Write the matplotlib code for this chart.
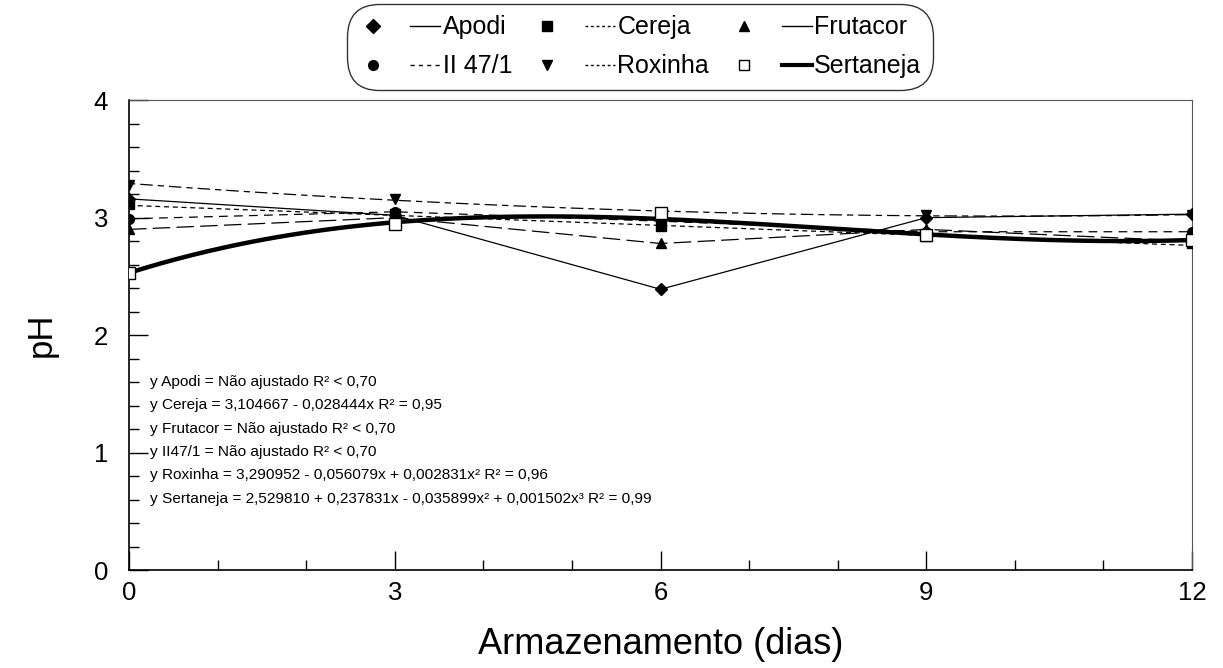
import numpy as np
import matplotlib.pyplot as plt
from matplotlib.lines import Line2D
from matplotlib.legend_handler import HandlerTuple
from matplotlib.ticker import MultipleLocator

plt.rcParams['font.family'] = ['Liberation Sans', 'DejaVu Sans']

# pH medido em cada dia de armazenamento
dias = [0, 3, 6, 9, 12]
apodi = [3.16, 3.02, 2.39, 3.00, 3.03]
cereja = [3.12, 3.03, 2.93, 2.84, 2.78]
frutacor = [2.90, 3.00, 2.78, 2.90, 2.80]
ii47 = [2.99, 3.05, 2.97, 2.88, 2.88]
roxinha = [3.28, 3.16, 3.02, 3.02, 3.02]
sertaneja = [2.53, 2.95, 3.04, 2.85, 2.81]

# coeficientes das regressoes (termo constante primeiro)
coef_cereja = [3.104667, -0.028444]
coef_roxinha = [3.290952, -0.056079, 0.002831]
coef_sertaneja = [2.529810, 0.237831, -0.035899, 0.001502]

equacoes = [
    "y Apodi = Não ajustado R² < 0,70",
    "y Cereja = 3,104667 - 0,028444x R² = 0,95",
    "y Frutacor = Não ajustado R² < 0,70",
    "y II47/1 = Não ajustado R² < 0,70",
    "y Roxinha = 3,290952 - 0,056079x + 0,002831x² R² = 0,96",
    "y Sertaneja = 2,529810 + 0,237831x - 0,035899x² + 0,001502x³ R² = 0,99",
]

fig = plt.figure(figsize=(12.23, 6.68), dpi=100)
ax = fig.add_axes([0.1055, 0.1467, 0.8692, 0.7033])

xs = np.linspace(0, 12, 200)
pv = np.polynomial.polynomial.polyval

# linhas: ligando pontos (nao ajustados) ou curva ajustada
ax.plot(dias, apodi, color='black', lw=0.9, ls='-')
ax.plot(dias, frutacor, color='black', lw=0.9, dashes=(14, 5))
ax.plot(dias, ii47, color='black', lw=0.9, dashes=(7, 5))
ax.plot(xs, pv(xs, coef_cereja), color='black', lw=0.9, dashes=(4, 3))
ax.plot(xs, pv(xs, coef_roxinha), color='black', lw=0.9, dashes=(5, 4, 10, 4))
ax.plot(xs, pv(xs, coef_sertaneja), color='black', lw=3.2, ls='-')

# pontos observados
ms = 7
ax.plot(dias, roxinha, 'v', color='black', ms=ms, zorder=5)
ax.plot(dias, apodi, 'D', color='black', ms=6, zorder=5)
ax.plot(dias, cereja, 's', color='black', ms=ms, zorder=5)
ax.plot(dias, ii47, 'o', color='black', ms=ms, zorder=5)
ax.plot(dias, frutacor, '^', color='black', ms=ms, zorder=5)
ax.plot(dias, sertaneja, 's', mfc='white', mec='black', mew=1, ms=9, zorder=6)

for i, txt in enumerate(equacoes):
    ax.text(0.02, 0.40 - i * 0.0496, txt, transform=ax.transAxes,
            fontsize=11.1, va='center', ha='left')

ax.set_xlim(0, 12)
ax.set_ylim(0, 4)
ax.xaxis.set_major_locator(MultipleLocator(3))
ax.xaxis.set_minor_locator(MultipleLocator(1))
ax.yaxis.set_major_locator(MultipleLocator(1))
ax.yaxis.set_minor_locator(MultipleLocator(0.2))
ax.tick_params(which='both', direction='in', top=False, right=False,
               labelsize=18.5, width=1)
ax.tick_params(which='major', length=14)
ax.tick_params(which='minor', length=7)
ax.tick_params(axis='y', pad=15)
ax.tick_params(axis='x', pad=8)

for s in ['left', 'bottom']:
    ax.spines[s].set_linewidth(1.2)
for s in ['top', 'right']:
    ax.spines[s].set_linewidth(0.8)
    ax.spines[s].set_color('#555555')

ax.set_xlabel('Armazenamento (dias)', fontsize=26, labelpad=16)
ax.set_ylabel('pH', fontsize=25, labelpad=26)

# legenda: marcador + estilo de linha de cada cultivar
def item(marker, mfc='black', **line_kw):
    mk = Line2D([], [], ls='none', marker=marker, color='black', mfc=mfc, ms=7)
    ln = Line2D([], [], color='black', **line_kw)
    return (mk, ln)

handles = [
    item('D', lw=1, ls='-'),
    item('o', lw=1, dashes=(3, 3)),
    item('s', lw=1, dashes=(2, 2)),
    item('v', lw=1, dashes=(2, 2)),
    item('^', lw=1, ls='-'),
    item('s', mfc='white', lw=3),
]
labels = ['Apodi', 'II 47/1', 'Cereja', 'Roxinha', 'Frutacor', 'Sertaneja']

leg = fig.legend(handles, labels, ncol=3, loc='center',
                 bbox_to_anchor=(0.523, 0.93), fontsize=18,
                 handler_map={tuple: HandlerTuple(ndivide=2, pad=0.9)},
                 handlelength=3.3, handletextpad=0.1, columnspacing=0.8,
                 labelspacing=0.6, borderpad=0.25, fancybox=True,
                 frameon=True)
leg.get_frame().set_edgecolor('black')
leg.get_frame().set_linewidth(1)
leg.get_frame().set_boxstyle('round', pad=0.2, rounding_size=1.3)

fig.savefig('out.png', dpi=100)
